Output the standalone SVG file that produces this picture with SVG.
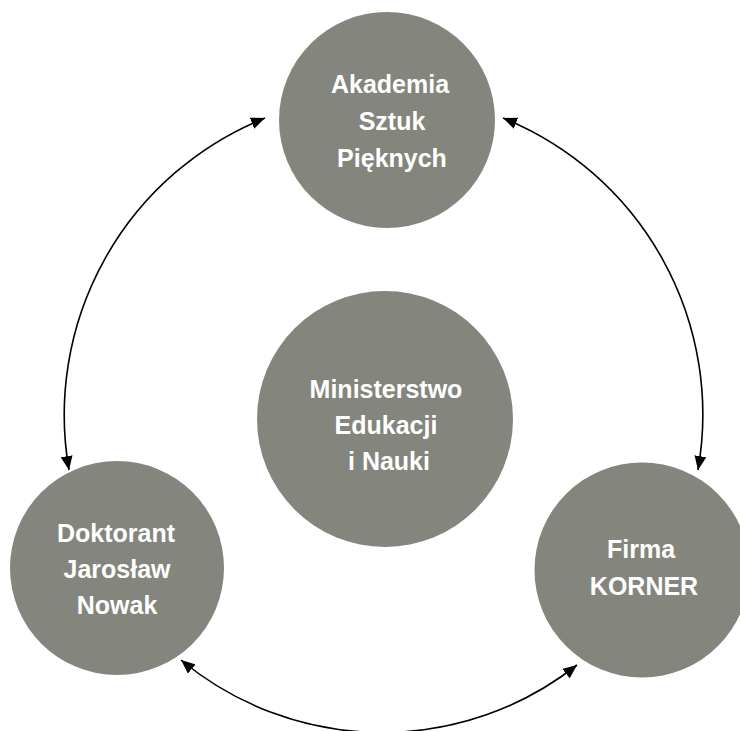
<svg xmlns="http://www.w3.org/2000/svg" width="740" height="731" viewBox="0 0 740 731">
  <style>
    .node { fill: #84857d; }
    .label { font-family: "Liberation Sans", Arial, sans-serif; font-weight: bold; font-size: 25px; fill: #ffffff; text-anchor: middle; }
    .conn { fill: none; stroke: #000000; stroke-width: 1.6; }
  </style>
  <defs>
    <marker id="arrow" viewBox="0 0 14 12" markerWidth="14" markerHeight="12" markerUnits="userSpaceOnUse" refX="14" refY="6" orient="auto-start-reverse">
      <path d="M0,0 L14,6 L0,12 z" fill="#000000"/>
    </marker>
  </defs>
  <rect x="0" y="0" width="740" height="731" fill="#ffffff"/>

  <g id="connectors">
    <path class="conn" d="M69,470 A320,320 0 0 1 265,118" marker-start="url(#arrow)" marker-end="url(#arrow)"/>
    <path class="conn" d="M503,118 A320,320 0 0 1 698,470" marker-start="url(#arrow)" marker-end="url(#arrow)"/>
    <path class="conn" d="M577,665 A315,315 0 0 1 181,660" marker-start="url(#arrow)" marker-end="url(#arrow)"/>
  </g>

  <g id="node-akademia">
    <circle class="node" cx="387" cy="120" r="108"/>
    <text class="label" x="390" y="93">Akademia</text>
    <text class="label" x="392" y="130">Sztuk</text>
    <text class="label" x="392" y="167">Pięknych</text>
  </g>

  <g id="node-ministerstwo">
    <circle class="node" cx="385" cy="419" r="128"/>
    <text class="label" x="386" y="398">Ministerstwo</text>
    <text class="label" x="386" y="434">Edukacji</text>
    <text class="label" x="389" y="470">i Nauki</text>
  </g>

  <g id="node-doktorant">
    <circle class="node" cx="117" cy="568" r="107"/>
    <text class="label" x="116" y="542">Doktorant</text>
    <text class="label" x="117" y="578">Jarosław</text>
    <text class="label" x="117" y="614">Nowak</text>
  </g>

  <g id="node-korner">
    <circle class="node" cx="642" cy="570" r="107.5"/>
    <text class="label" x="641" y="558">Firma</text>
    <text class="label" x="644" y="595">KORNER</text>
  </g>
</svg>
